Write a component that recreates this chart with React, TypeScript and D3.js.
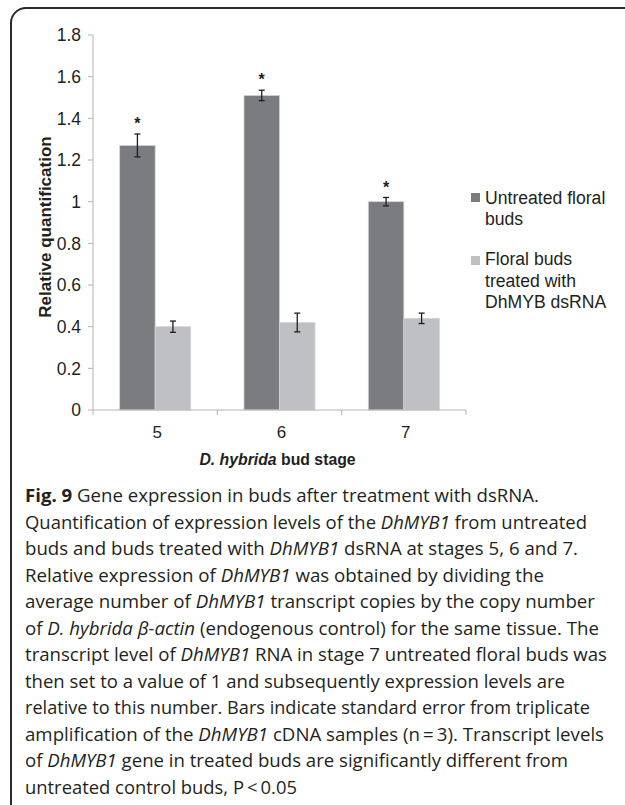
import React from "react";
import * as d3 from "d3";

// Bud stages on the x axis
const stages = ["5", "6", "7"];
// Relative quantification, untreated floral buds
const untreated = [1.27, 1.51, 1.0];
const untreatedErr = [0.055, 0.025, 0.02];
// Relative quantification, buds treated with DhMYB dsRNA
const treated = [0.4, 0.42, 0.44];
const treatedErr = [0.027, 0.045, 0.025];
// Significance markers above the untreated bars
const significant = [true, true, true];
// Axis ticks
const yTicks = [0, 0.2, 0.4, 0.6, 0.8, 1, 1.2, 1.4, 1.6, 1.8];
const yTickLabels = ["0", "0.2", "0.4", "0.6", "0.8", "1", "1.2", "1.4", "1.6", "1.8"];
// Legend entries (wrapped lines)
const legendUntreated = ["Untreated floral", "buds"];
const legendTreated = ["Floral buds", "treated with", "DhMYB dsRNA"];

type Seg = { t: string; i?: boolean; b?: boolean };
// Figure caption, one array of segments per line
const caption: Seg[][] = [
  [{ t: "Fig. 9", b: true }, { t: " Gene expression in buds after treatment with dsRNA." }],
  [{ t: "Quantification of expression levels of the " }, { t: "DhMYB1", i: true }, { t: " from untreated" }],
  [{ t: "buds and buds treated with " }, { t: "DhMYB1", i: true }, { t: " dsRNA at stages 5, 6 and 7." }],
  [{ t: "Relative expression of " }, { t: "DhMYB1", i: true }, { t: " was obtained by dividing the" }],
  [{ t: "average number of " }, { t: "DhMYB1", i: true }, { t: " transcript copies by the copy number" }],
  [{ t: "of " }, { t: "D. hybrida β-actin", i: true }, { t: " (endogenous control) for the same tissue. The" }],
  [{ t: "transcript level of " }, { t: "DhMYB1", i: true }, { t: " RNA in stage 7 untreated floral buds was" }],
  [{ t: "then set to a value of 1 and subsequently expression levels are" }],
  [{ t: "relative to this number. Bars indicate standard error from triplicate" }],
  [{ t: "amplification of the " }, { t: "DhMYB1", i: true }, { t: " cDNA samples (n\u2009=\u20093). Transcript levels" }],
  [{ t: "of " }, { t: "DhMYB1", i: true }, { t: " gene in treated buds are significantly different from" }],
  [{ t: "untreated control buds, P\u2009<\u20090.05" }],
];
// Right end of each caption line (justified column)
const captionEnds = [539, 587, 578, 544, 595, 599, 607, 565, 590, 604, 568, 297];

const W = 625;
const H = 805;
const plot = { left: 93, right: 466, top: 35, bottom: 410 };

const DARK = "#7b7c80";
const LIGHT = "#bfc0c4";
const AXIS = "#b4b4b4";
const TEXT = "#231f20";
const SANS = "'Liberation Sans', Arial, Helvetica, sans-serif";
const CAPTION_X = 25;

export default function App() {
  const x = d3.scaleBand<string>().domain(stages).range([plot.left, plot.right]).padding(0);
  const y = d3.scaleLinear().domain([0, 1.8]).range([plot.bottom, plot.top]);
  const bw = x.bandwidth() / 3.5; // 150% gap width
  const groupStart = (s: string) => (x(s) as number) + bw * 0.75;

  const series = [
    { vals: untreated, err: untreatedErr, color: DARK, offset: 0 },
    { vals: treated, err: treatedErr, color: LIGHT, offset: 1 },
  ];

  return (
    <svg width={W} height={H} style={{ position: "absolute", left: 0, top: 0, background: "#fff" }}>
      <rect x={11} y={8} width={720} height={812} rx={15} ry={15} fill="none" stroke="#2b2b2b" strokeWidth={2} />

      {/* y axis */}
      <line x1={plot.left} x2={plot.left} y1={plot.top} y2={plot.bottom} stroke={AXIS} strokeWidth={1} />
      {yTicks.map((t, i) => (
        <g key={"yt" + i}>
          <line x1={plot.left - 5} x2={plot.left} y1={y(t)} y2={y(t)} stroke={AXIS} />
          <text x={81} y={y(t)} dy="0.36em" textAnchor="end" fontFamily={SANS} fontSize={17.5} fill={TEXT}>
            {yTickLabels[i]}
          </text>
        </g>
      ))}
      <text
        transform={`translate(45,227) rotate(-90)`}
        textAnchor="middle"
        dy="0.35em"
        fontFamily={SANS}
        fontSize={17}
        fontWeight="bold"
        fill={TEXT}
      >
        Relative quantification
      </text>

      {/* bars */}
      {series.map((s, si) =>
        stages.map((st, i) => {
          const bx = groupStart(st) + s.offset * bw;
          return (
            <rect
              key={`b${si}-${i}`}
              x={bx}
              y={y(s.vals[i])}
              width={bw}
              height={y(0) - y(s.vals[i])}
              fill={s.color}
              stroke="#d4d4d6"
              strokeWidth={0.8}
            />
          );
        })
      )}

      {/* error bars */}
      {series.map((s, si) =>
        stages.map((st, i) => {
          const cx = groupStart(st) + s.offset * bw + bw / 2;
          const y1 = y(s.vals[i] + s.err[i]);
          const y2 = y(s.vals[i] - s.err[i]);
          return (
            <g key={`e${si}-${i}`} stroke="#1e1e1e" strokeWidth={1.3}>
              <line x1={cx} x2={cx} y1={y1} y2={y2} />
              <line x1={cx - 3} x2={cx + 3} y1={y1} y2={y1} />
              <line x1={cx - 3} x2={cx + 3} y1={y2} y2={y2} />
            </g>
          );
        })
      )}

      {/* significance stars */}
      {stages.map((st, i) =>
        significant[i] ? (
          <text
            key={"s" + i}
            x={groupStart(st) + bw / 2}
            y={y(untreated[i] + untreatedErr[i]) - 5}
            textAnchor="middle"
            fontFamily={SANS}
            fontSize={16}
            fontWeight="bold"
            fill={TEXT}
          >
            *
          </text>
        ) : null
      )}

      {/* x axis */}
      <line x1={plot.left} x2={plot.right} y1={plot.bottom} y2={plot.bottom} stroke={AXIS} />
      {[...stages.map((s) => x(s) as number), plot.right].map((tx, i) => (
        <line key={"xt" + i} x1={tx} x2={tx} y1={plot.bottom} y2={plot.bottom + 5} stroke={AXIS} />
      ))}
      {stages.map((s) => (
        <text
          key={"xl" + s}
          x={(x(s) as number) + x.bandwidth() / 2 + 2}
          y={437.5}
          textAnchor="middle"
          fontFamily={SANS}
          fontSize={17}
          fill={TEXT}
        >
          {s}
        </text>
      ))}
      <text x={(plot.left + plot.right) / 2 - 2} y={465} textAnchor="middle" fontFamily={SANS} fontSize={15.8} fontWeight="bold" fill={TEXT}>
        <tspan fontStyle="italic">D. hybrida</tspan> bud stage
      </text>

      {/* legend */}
      <rect x={471} y={193} width={9} height={9} fill={DARK} />
      {legendUntreated.map((l, i) => (
        <text key={"lu" + i} x={485} y={203.5 + i * 21} fontFamily={SANS} fontSize={17.6} fill={TEXT}>
          {l}
        </text>
      ))}
      <rect x={471} y={256} width={9} height={9} fill={LIGHT} />
      {legendTreated.map((l, i) => (
        <text key={"lt" + i} x={485} y={265 + i * 21.5} fontFamily={SANS} fontSize={17.6} fill={TEXT}>
          {l}
        </text>
      ))}

      {/* caption */}
      {caption.map((line, li) => (
        <text
          key={"c" + li}
          x={CAPTION_X}
          y={502 + li * 26.5}
          fontFamily="'Open Sans', 'Noto Sans', sans-serif"
          fontSize={17.5}
          fill={TEXT}
          textLength={captionEnds[li] - CAPTION_X}
          lengthAdjust="spacingAndGlyphs"
        >
          {line.map((sg, k) => (
            <tspan key={k} fontStyle={sg.i ? "italic" : "normal"} fontWeight={sg.b ? "bold" : "normal"}>
              {sg.t}
            </tspan>
          ))}
        </text>
      ))}
    </svg>
  );
}
